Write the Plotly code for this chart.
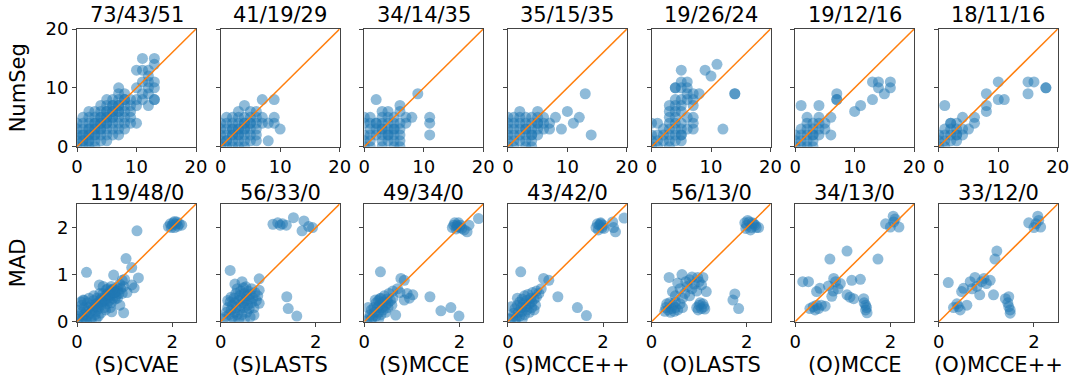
import plotly.graph_objects as go

METHODS = ["(S)CVAE", "(S)LASTS", "(S)MCCE", "(S)MCCE++", "(O)LASTS", "(O)MCCE", "(O)MCCE++"]
NUMSEG_TITLES = ["73/43/51", "41/19/29", "34/14/35", "35/15/35", "19/26/24", "19/12/16", "18/11/16"]
MAD_TITLES = ["119/48/0", "56/33/0", "49/34/0", "43/42/0", "56/13/0", "34/13/0", "33/12/0"]
ROW_LABELS = ["NumSeg", "MAD"]
NUMSEG_RANGE = [0, 20]
NUMSEG_TICKS = [0, 10, 20]
MAD_RANGE = [0, 2.5]
MAD_XTICKS = [0, 2]
MAD_YTICKS = [0, 1, 2]

# ---- NumSeg (top row), (x, y) pairs ----
NUMSEG_S_CVAE = [(11,15),(13,15),(10,13),(12,13),(13,14),(11,13),(12,12),(12,11),(11,11),(13,11),(13,10),(12,10),
    (10,10),(11,9),(12,9),(13,8),(13,8),(11,8),(10,8),(10,7),(12,7),(9,8),(9,7),(8,9),(7,10),(7,9),(8,8),(7,8),(6,8),
    (5,8),(6,7),(7,7),(8,7),(9,6),(5,7),(4,7),(5,6),(6,6),(7,6),(8,6),(4,6),(3,6),(2,6),(6,5),(7,5),(8,5),(9,5),(5,5),
    (4,5),(3,5),(2,5),(1,5),(4,4),(5,4),(6,4),(7,4),(8,4),(9,4),(10,4),(3,4),(2,4),(1,4),(0,4),(3,3),(4,3),(5,3),(6,3),
    (7,3),(8,3),(2,3),(1,3),(0,3),(7,2),(6,2),(5,2),(4,2),(3,2),(2,2),(1,2),(0,2),(4,1),(3,1),(2,1),(1,1),(0,1),(5,1),
    (3,0),(2,0),(1,0),(0,0),(2,2),(3,3),(4,4),(5,5),(6,6),(1,1),(2,3),(3,4),(4,5),(5,6),(6,7),(3,2),(4,3),(5,4),(6,5),
    (7,6),(1,2),(2,1),(7,7),(8,8)]
NUMSEG_S_LASTS = [(7,8),(9,8),(9,5),(10,3),(8,1),(6,1),(4,7),(7,5),(6,6),(5,6),(6,5),(8,4),(9,4),(1,5),(2,5),(3,5),
    (4,5),(5,5),(0,4),(1,4),(2,4),(3,4),(4,4),(5,4),(6,4),(7,4),(0,3),(1,3),(2,3),(3,3),(4,3),(5,3),(6,3),(0,2),(1,2),
    (2,2),(3,2),(4,2),(5,2),(0,1),(1,1),(2,1),(3,1),(4,1),(5,1),(0,0),(1,0),(2,0),(3,0),(4,0),(6,2),(3,6),(2,2),(3,3),
    (4,4),(3,2),(2,3),(4,3),(1,1),(5,4)]
NUMSEG_S_MCCE = [(2,8),(9,9),(6,7),(3,6),(6,6),(8,5),(7,5),(11,5),(11,4),(11,2),(1,5),(0,5),(0,4),(1,4),(2,4),(3,4),
    (4,4),(5,4),(6,4),(7,4),(4,5),(5,5),(3,5),(1,3),(2,3),(3,3),(4,3),(5,3),(6,3),(0,2),(1,2),(2,2),(3,2),(4,2),(5,2),
    (6,2),(0,1),(1,1),(3,1),(4,1),(5,1),(6,1),(0,0),(1,0),(3,0),(5,0),(6,0),(4,6),(5,3),(4,2),(2,4),(3,3)]
NUMSEG_S_MCCEPP = [(2,6),(13,9),(10,6),(12,5),(11,4),(9,3),(14,2),(8,5),(7,3),(7,4),(6,5),(6,4),(5,5),(4,5),(3,5),
    (2,5),(1,5),(0,5),(0,4),(1,4),(2,4),(3,4),(4,4),(5,4),(0,3),(1,3),(2,3),(3,3),(4,3),(5,3),(6,3),(0,2),(1,2),(2,2),
    (3,2),(4,2),(5,2),(0,1),(1,1),(2,1),(3,1),(4,1),(0,0),(1,0),(3,0),(4,0),(5,6),(4,2),(3,3),(5,4)]
NUMSEG_O_LASTS = [(11,14),(9,13),(10,12),(5,13),(14,9),(14,9),(12,3),(6,11),(4,10),(4,10),(5,11),(5,10),(6,10),(6,9),
    (7,9),(8,9),(5,8),(4,8),(3,7),(4,7),(5,7),(3,6),(4,6),(6,8),(7,8),(5,6),(6,5),(7,5),(7,4),(7,3),(6,3),(5,4),(4,4),
    (3,4),(1,4),(0,4),(2,3),(3,3),(4,3),(5,3),(1,2),(2,2),(3,2),(4,2),(5,2),(0,1),(1,1),(2,1),(3,1),(4,1),(5,1),(0,0),
    (1,0),(3,0),(5,2),(4,5),(3,5),(0,2),(7,7)]
NUMSEG_O_MCCE = [(13,11),(14,11),(16,11),(14,10),(16,10),(15,9),(13,8),(11,7),(10,6),(7,9),(7,8),(7,8),(1,7),(4,7),
    (6,5),(4,5),(5,4),(2,4),(6,2),(3,1),(1,3),(2,3),(3,3),(4,3),(2,2),(3,2),(4,2),(1,2),(1,1),(2,1),(0,0),(1,0),(2,0),
    (3,0),(0,1),(3,4),(4,4),(5,3),(2,5),(0,2),(3,2)]
NUMSEG_O_MCCEPP = [(1,7),(10,11),(15,11),(16,11),(15,9),(18,10),(18,10),(10,8),(11,8),(8,9),(8,7),(8,6),(6,5),(6,4),
    (4,5),(5,3),(3,1),(2,4),(2,4),(2,3),(3,3),(3,4),(4,3),(4,2),(3,2),(2,2),(1,2),(1,3),(1,1),(2,1),(0,0),(1,0),(0,1),
    (0,2),(3,2)]

# ---- MAD (bottom row), (x, y) pairs ----
MAD_S_CVAE = [(1.92,2.02),(1.96,2.08),(2.0,2.05),(2.03,2.1),(2.05,2.0),(2.08,2.07),(2.1,2.12),(2.12,2.03),(2.15,2.08),
    (2.2,2.05),(1.98,2.0),(2.05,2.13),(1.26,1.93),(0.2,1.05),(1.03,1.34),(0.98,0.19),(0.73,0.21),(1.29,0.93),(1.15,1.15),
    (0.77,0.99),(0.47,0.78),(1.2,0.72),(1.15,0.78),(0.13,0.46),(0.02,0.05),(0.05,0.12),(0.08,0.02),(0.1,0.2),(0.12,0.08),
    (0.15,0.3),(0.15,0.15),(0.18,0.05),(0.2,0.22),(0.22,0.4),(0.22,0.12),(0.25,0.3),(0.27,0.18),(0.3,0.35),(0.3,0.08),
    (0.32,0.25),(0.35,0.45),(0.35,0.3),(0.38,0.15),(0.4,0.38),(0.4,0.22),(0.42,0.5),(0.45,0.4),(0.45,0.28),(0.48,0.6),
    (0.48,0.45),(0.5,0.35),(0.5,0.18),(0.52,0.5),(0.55,0.42),(0.55,0.6),(0.58,0.3),(0.6,0.55),(0.6,0.45),(0.62,0.68),
    (0.63,0.38),(0.65,0.52),(0.65,0.6),(0.68,0.45),(0.7,0.65),(0.7,0.55),(0.72,0.75),(0.72,0.4),(0.75,0.6),(0.75,0.5),
    (0.78,0.7),(0.8,0.62),(0.8,0.48),(0.82,0.55),(0.85,0.72),(0.85,0.65),(0.88,0.6),(0.9,0.8),(0.9,0.35),(0.92,0.7),
    (0.95,0.88),(0.95,0.6),(0.98,0.75),(1.0,0.9),(1.05,0.62),(0.6,0.25),(0.45,0.12),(0.35,0.55),(0.55,0.75),(0.7,0.3),
    (0.25,0.5),(0.1,0.35),(0.05,0.25),(0.3,0.02),(0.2,0.0),(0.15,0.45),(0.4,0.05),(0.08,0.42),(0.65,0.7),(0.75,0.68),
    (0.85,0.5),(0.58,0.48),(0.42,0.32),(0.5,0.42),(0.68,0.58),(0.78,0.62)]
MAD_S_LASTS = [(1.1,2.07),(1.2,2.1),(1.25,2.05),(1.3,2.08),(1.38,2.05),(1.53,2.21),(1.75,2.14),(1.71,1.93),(1.93,2.0),
    (1.85,2.02),(0.2,1.09),(0.81,0.91),(1.39,0.53),(1.42,0.28),(1.6,0.12),(0.05,0.05),(0.1,0.1),(0.12,0.2),(0.15,0.3),
    (0.18,0.15),(0.2,0.42),(0.22,0.25),(0.25,0.35),(0.25,0.1),(0.28,0.5),(0.3,0.2),(0.3,0.4),(0.32,0.6),(0.33,0.3),
    (0.35,0.7),(0.35,0.15),(0.38,0.45),(0.4,0.55),(0.4,0.25),(0.42,0.35),(0.42,0.65),(0.45,0.5),(0.45,0.15),(0.48,0.4),
    (0.48,0.72),(0.5,0.3),(0.5,0.6),(0.52,0.45),(0.55,0.55),(0.55,0.2),(0.57,0.35),(0.58,0.65),(0.6,0.48),(0.6,0.28),
    (0.62,0.58),(0.65,0.4),(0.65,0.7),(0.68,0.5),(0.7,0.3),(0.72,0.62),(0.7,0.14),(0.75,0.45),(0.78,0.55),(0.81,0.67),
    (0.81,0.39),(0.38,0.05),(0.22,0.52),(0.28,0.02),(0.15,0.45),(0.62,0.1),(0.5,0.05),(0.3,0.8),(0.53,0.74),(0.45,0.85)]
MAD_S_MCCE = [(1.85,2.0),(1.88,2.05),(1.9,2.1),(1.93,1.97),(1.95,2.05),(1.98,2.1),(2.0,2.0),(2.02,2.05),(2.05,1.98),
    (2.2,2.05),(2.4,2.19),(2.16,1.91),(2.1,1.95),(1.95,2.02),(0.34,1.06),(1.38,0.53),(1.61,0.23),(1.82,0.3),(1.99,0.12),
    (0.77,0.92),(0.84,0.88),(1.02,0.57),(0.84,0.46),(0.66,0.14),(0.9,0.6),(0.75,0.62),(0.95,0.5),(0.7,0.7),(0.6,0.65),
    (0.05,0.02),(0.1,0.08),(0.12,0.15),(0.15,0.25),(0.18,0.1),(0.2,0.3),(0.22,0.2),(0.25,0.4),(0.25,0.12),(0.28,0.3),
    (0.3,0.45),(0.3,0.2),(0.32,0.35),(0.35,0.5),(0.35,0.15),(0.38,0.3),(0.4,0.42),(0.4,0.25),(0.42,0.55),(0.45,0.35),
    (0.45,0.2),(0.48,0.48),(0.5,0.3),(0.5,0.4),(0.52,0.6),(0.55,0.45),(0.58,0.35),(0.6,0.5),(0.23,0.46),(0.15,0.05),
    (0.3,0.05),(0.08,0.3),(0.33,0.49)]
MAD_S_MCCEPP = [(1.85,2.0),(1.88,2.08),(1.9,1.95),(1.92,2.05),(1.95,2.1),(1.98,2.0),(2.0,2.05),(2.02,1.98),(2.2,2.12),
    (2.26,1.91),(2.44,2.2),(1.95,2.08),(2.22,2.0),(0.27,1.06),(1.46,0.30),(1.65,0.13),(1.05,0.53),(0.75,0.92),(0.86,0.88),
    (0.7,0.7),(0.65,0.6),(0.6,0.65),(0.05,0.05),(0.1,0.1),(0.12,0.18),(0.15,0.28),(0.18,0.08),(0.2,0.35),(0.22,0.2),
    (0.25,0.42),(0.25,0.12),(0.28,0.3),(0.3,0.48),(0.3,0.22),(0.32,0.38),(0.35,0.55),(0.35,0.15),(0.38,0.32),(0.4,0.45),
    (0.4,0.25),(0.42,0.58),(0.45,0.38),(0.45,0.2),(0.48,0.5),(0.5,0.3),(0.5,0.42),(0.52,0.62),(0.55,0.48),(0.58,0.35),
    (0.6,0.52),(0.2,0.5),(0.15,0.02),(0.3,0.05),(0.08,0.32),(0.55,0.25)]
MAD_O_LASTS = [(1.96,2.1),(2.0,2.05),(2.05,2.12),(2.1,2.0),(2.15,2.08),(2.08,1.95),(2.2,2.0),(2.25,2.0),(2.02,2.15),
    (2.12,2.1),(1.98,1.98),(2.18,2.05),(0.37,0.94),(0.64,1.0),(0.55,0.82),(0.8,0.89),(1.08,0.94),(0.97,0.94),(1.15,0.64),
    (0.75,0.75),(0.85,0.7),(0.7,0.6),(0.9,0.8),(1.0,0.85),(0.6,0.7),(0.65,0.5),(0.8,0.55),(0.5,0.55),(0.44,0.64),
    (0.95,0.65),(1.05,0.78),(0.72,0.85),(0.85,0.95),(1.75,0.59),(1.71,0.46),(1.83,0.28),(0.95,0.3),(1.0,0.35),(1.05,0.28),
    (1.1,0.32),(0.98,0.25),(1.08,0.38),(1.12,0.27),(1.02,0.4),(0.3,0.3),(0.35,0.25),(0.4,0.2),(0.45,0.35),(0.5,0.3),
    (0.55,0.25),(0.6,0.38),(0.38,0.4),(0.42,0.28),(0.32,0.38),(0.5,0.42),(0.65,0.3),(0.48,0.22),(0.28,0.22)]
MAD_O_MCCE = [(0.16,0.85),(0.28,0.85),(0.73,1.33),(1.09,1.5),(1.74,1.33),(1.9,2.08),(2.06,2.24),(2.07,2.12),(2.18,2.01),
    (2.0,2.01),(2.1,2.18),(1.19,0.88),(1.37,0.9),(0.81,0.92),(0.95,0.81),(0.7,0.76),(0.52,0.71),(0.45,0.64),(0.77,0.54),
    (1.09,0.57),(1.23,0.49),(1.44,0.49),(1.48,0.35),(1.51,0.19),(1.48,0.25),(1.45,0.4),(0.38,0.32),(0.49,0.28),(0.63,0.33),
    (0.31,0.28),(0.42,0.25),(0.55,0.35),(0.85,0.85),(0.9,0.7),(1.15,0.52),(0.8,0.65),(1.5,0.3),(0.45,0.35)]
MAD_O_MCCEPP = [(0.2,0.83),(1.22,1.5),(1.18,1.33),(1.89,2.1),(2.08,2.24),(2.14,2.01),(2.04,2.08),(2.1,2.15),(2.0,2.0),
    (0.76,0.94),(0.9,0.85),(0.66,0.85),(0.52,0.71),(0.48,0.64),(0.86,0.57),(1.15,0.57),(1.4,0.49),(1.47,0.53),(1.47,0.32),
    (1.5,0.18),(1.45,0.4),(1.5,0.25),(0.41,0.32),(0.31,0.3),(0.59,0.35),(0.45,0.25),(0.38,0.38),(1.0,0.81),(1.08,0.88),
    (0.95,0.92),(0.8,0.75),(0.7,0.7)]

NUMSEG_DATA = [NUMSEG_S_CVAE, NUMSEG_S_LASTS, NUMSEG_S_MCCE, NUMSEG_S_MCCEPP, NUMSEG_O_LASTS, NUMSEG_O_MCCE, NUMSEG_O_MCCEPP]
MAD_DATA = [MAD_S_CVAE, MAD_S_LASTS, MAD_S_MCCE, MAD_S_MCCEPP, MAD_O_LASTS, MAD_O_MCCE, MAD_O_MCCEPP]

W, H = 1071, 377
FONT = "DejaVu Sans"
BLUE = "#1f77b4"
ORANGE = "#ff7f0e"
SPINE = "#444444"


def px_x(p):
    return p / W


def px_y(p):
    return 1 - p / H


fig = go.Figure()
layout = dict(width=W, height=H, autosize=False,
              margin=dict(l=0, r=0, t=0, b=0, pad=0, autoexpand=False),
              paper_bgcolor="white", plot_bgcolor="white", showlegend=False,
              font=dict(family=FONT, size=18, color="black"))
annotations = []

PANEL_LEFT0 = 77.0
PANEL_STEP = 143.63
PANEL_W = 119.0
ROWS_PX = [(29.0, 146.7), (204.0, 321.7)]

for r in range(2):
    data = NUMSEG_DATA if r == 0 else MAD_DATA
    titles = NUMSEG_TITLES if r == 0 else MAD_TITLES
    rng = NUMSEG_RANGE if r == 0 else MAD_RANGE
    xt = NUMSEG_TICKS if r == 0 else MAD_XTICKS
    yt = NUMSEG_TICKS if r == 0 else MAD_YTICKS
    top_px, bot_px = ROWS_PX[r]
    for c in range(7):
        k = r * 7 + c + 1
        sfx = "" if k == 1 else str(k)
        left = PANEL_LEFT0 + c * PANEL_STEP
        xd = [px_x(left), px_x(left + PANEL_W)]
        yd = [px_y(bot_px), px_y(top_px)]
        common = dict(range=rng, showline=True, mirror=True, linecolor=SPINE, linewidth=1,
                      ticks="outside", ticklen=4, tickwidth=1, tickcolor=SPINE,
                      showgrid=False, zeroline=False, tickfont=dict(family=FONT, size=18, color="black"),
                      fixedrange=True, automargin=False)
        layout["xaxis" + sfx] = dict(common, domain=xd, anchor="y" + sfx, tickvals=xt)
        layout["yaxis" + sfx] = dict(common, domain=yd, anchor="x" + sfx, tickvals=yt,
                                     showticklabels=(c == 0))
        pts = data[c]
        fig.add_trace(go.Scatter(x=[p[0] for p in pts], y=[p[1] for p in pts], mode="markers",
                                 marker=dict(size=11, color=BLUE, opacity=0.5, line=dict(width=0)),
                                 xaxis="x" + sfx, yaxis="y" + sfx, cliponaxis=True))
        fig.add_trace(go.Scatter(x=rng, y=rng, mode="lines", line=dict(color=ORANGE, width=1.5),
                                 xaxis="x" + sfx, yaxis="y" + sfx))
        title_y = 15.0 if r == 0 else 192.5
        cx = (xd[0] + xd[1]) / 2
        annotations.append(dict(text=titles[c], x=cx, y=px_y(title_y),
                                xref="paper", yref="paper", xanchor="center", yanchor="middle",
                                showarrow=False, font=dict(family=FONT, size=21, color="black")))
        if r == 1:
            annotations.append(dict(text=METHODS[c], x=cx, y=px_y(365.0),
                                    xref="paper", yref="paper", xanchor="center", yanchor="middle",
                                    showarrow=False, font=dict(family=FONT, size=21, color="black")))
    ymid = (top_px + bot_px) / 2
    annotations.append(dict(text=ROW_LABELS[r], x=px_x(17.5), y=px_y(ymid), textangle=-90,
                            xref="paper", yref="paper", xanchor="center", yanchor="middle",
                            showarrow=False, font=dict(family=FONT, size=21, color="black")))

layout["annotations"] = annotations
fig.update_layout(**layout)
# remove the browser's default 8px body margin so the figure sits at the window's corner
fig.write_html("out.html", config={"displayModeBar": False, "staticPlot": True},
               post_script="document.body.style.margin='0px';")
